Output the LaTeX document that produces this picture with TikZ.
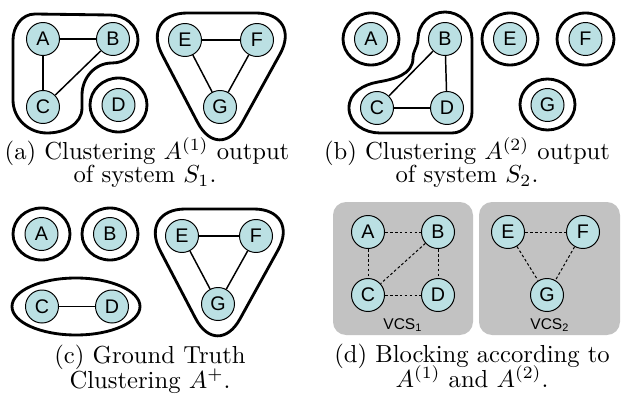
\documentclass[tikz,border=0pt]{standalone}
\usepackage{fontspec}
\newfontfamily\nodefont{Liberation Sans}
\definecolor{nodecyan}{RGB}{187,224,227}
\definecolor{boxgray}{RGB}{194,194,194}
\begin{document}
\begin{tikzpicture}[x=0.406pt,y=0.406pt,
  vtx/.style={circle, draw=black, line width=0.4pt, fill=nodecyan,
    minimum size=13.4pt, inner sep=0pt, font=\nodefont\fontsize{8}{9}\selectfont},
  edge/.style={line width=0.6pt},
  dedge/.style={line width=0.4pt, dash pattern=on 1.1pt off 0.9pt},
  hull/.style={line width=1.15pt, line join=round},
  blockbox/.style={fill=boxgray, rounded corners=5.3pt},
  captext/.style={anchor=base, inner sep=0pt, font=\fontsize{10}{12}\selectfont},
  vcs/.style={font=\nodefont\fontsize{6.3}{7}\selectfont, inner sep=0pt}]
\useasboundingbox (0,0) rectangle (624,-399);

% ---------- (a) clustering of system S1 ----------
\draw[hull] (13,-100) -- (13,-40) to[out=90,in=180] (35,-14) -- (110,-15)
  to[out=0,in=90] (138,-40) to[out=-90,in=0] (112,-63)
  to[out=180,in=90] (82,-95) -- (82,-108) to[out=-90,in=0] (47,-133)
  to[out=180,in=-90] (13,-100) -- cycle;
\draw[hull] (118.5,-105) ellipse [x radius=28.5, y radius=27];
\draw[hull, rounded corners=19pt] (140.4,-13) -- (302.7,-13) -- (219.3,-164) -- cycle;
\node[vtx] (aA) at (43,-39) {A};
\node[vtx] (aB) at (113,-39) {B};
\node[vtx] (aC) at (43,-107) {C};
\node[vtx] (aD) at (118.5,-105) {D};
\node[vtx] (aE) at (185,-40) {E};
\node[vtx] (aF) at (257,-40) {F};
\node[vtx] (aG) at (220,-107) {G};
\draw[edge] (aA) -- (aB);
\draw[edge] (aA) -- (aC);
\draw[edge] (aB) -- (aC);
\draw[edge] (aE) -- (aF);
\draw[edge] (aE) -- (aG);
\draw[edge] (aF) -- (aG);
\node[captext] (acap1) at (147,-159) {(a) Clustering $A^{(1)}$ output};
\node[captext] (acap2) at (145,-183) {of system $S_1$.};

% ---------- (b) clustering of system S2 ----------
\draw[hull] (371,-39) ellipse [x radius=28, y radius=26];
\draw[hull] (510,-39) ellipse [x radius=28, y radius=26];
\draw[hull] (585.5,-39) ellipse [x radius=28.5, y radius=26];
\draw[hull] (547.5,-104.5) ellipse [x radius=27.5, y radius=25.5];
\draw[hull] (418,-39) to[out=90,in=180] (445,-12) to[out=0,in=90] (472,-39)
  -- (472,-112) to[out=-90,in=0] (452,-133) -- (380,-133)
  to[out=180,in=-90] (349,-108) to[out=90,in=190] (378,-82)
  to[out=10,in=-90] (413,-58) to[out=90,in=-90] (418,-39) -- cycle;
\node[vtx] (bA) at (371,-39) {A};
\node[vtx] (bB) at (445,-39) {B};
\node[vtx] (bC) at (377,-108) {C};
\node[vtx] (bD) at (447,-108) {D};
\node[vtx] (bE) at (510,-39) {E};
\node[vtx] (bF) at (585.5,-39) {F};
\node[vtx] (bG) at (547.5,-105) {G};
\draw[edge] (bB) -- (bC);
\draw[edge] (bB) -- (bD);
\draw[edge] (bC) -- (bD);
\node[captext] (bcap1) at (467,-159) {(b) Clustering $A^{(2)}$ output};
\node[captext] (bcap2) at (467,-183) {of system $S_2$.};

% ---------- (c) ground truth ----------
\draw[hull] (41.5,-234) ellipse [x radius=28.5, y radius=26];
\draw[hull] (110,-234) ellipse [x radius=28, y radius=26];
\draw[hull] (76,-306.5) ellipse [x radius=64, y radius=28.5];
\draw[hull, rounded corners=19pt] (138.4,-209) -- (300.7,-209) -- (217.3,-360) -- cycle;
\node[vtx] (cA) at (41.5,-234) {A};
\node[vtx] (cB) at (110,-234) {B};
\node[vtx] (cC) at (42,-306.5) {C};
\node[vtx] (cD) at (112,-306.5) {D};
\node[vtx] (cE) at (182,-236) {E};
\node[vtx] (cF) at (256,-236) {F};
\node[vtx] (cG) at (218,-304) {G};
\draw[edge] (cC) -- (cD);
\draw[edge] (cE) -- (cF);
\draw[edge] (cE) -- (cG);
\draw[edge] (cF) -- (cG);
\node[captext] (ccap1) at (150,-363) {(c) Ground Truth};
\node[captext] (ccap2) at (150,-388) {Clustering $A^{+}$.};

% ---------- (d) blocking ----------
\fill[blockbox] (333,-202) rectangle (473,-335);
\fill[blockbox] (479,-202) rectangle (620,-335);
\node[vtx] (dA) at (368,-232) {A};
\node[vtx] (dB) at (438,-232) {B};
\node[vtx] (dC) at (368,-295) {C};
\node[vtx] (dD) at (438,-295) {D};
\node[vtx] (dE) at (508,-232) {E};
\node[vtx] (dF) at (583,-232) {F};
\node[vtx] (dG) at (547,-295) {G};
\draw[dedge] (dA) -- (dB);
\draw[dedge] (dA) -- (dC);
\draw[dedge] (dB) -- (dC);
\draw[dedge] (dB) -- (dD);
\draw[dedge] (dC) -- (dD);
\draw[dedge] (dE) -- (dF);
\draw[dedge] (dE) -- (dG);
\draw[dedge] (dF) -- (dG);
\node[vcs] (vcs1) at (403,-325) {VCS\textsubscript{1}};
\node[vcs] (vcs2) at (550,-325) {VCS\textsubscript{2}};
\node[captext] (dcap1) at (472,-362) {(d) Blocking according to};
\node[captext] (dcap2) at (472,-387) {$A^{(1)}$ and $A^{(2)}$.};
\end{tikzpicture}
\end{document}
